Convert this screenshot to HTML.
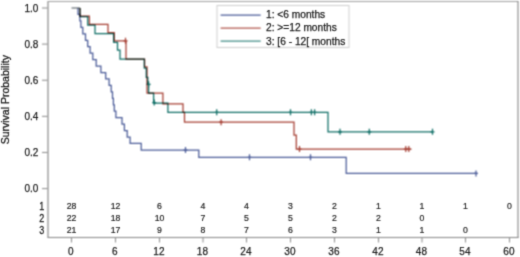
<!DOCTYPE html>
<html><head><meta charset="utf-8"><style>
html,body{margin:0;padding:0;background:#fff;}
body{width:520px;height:257px;overflow:hidden;}
svg{display:block;}
text{font-family:"Liberation Sans",sans-serif;}
.tk{font-size:10px;font-weight:normal;fill:#1e1e1e;stroke:#1e1e1e;stroke-width:0.25px;}
.lg{font-size:10.2px;font-weight:normal;fill:#1a1a1a;stroke:#1a1a1a;stroke-width:0.25px;}
.tn{font-size:8.7px;font-weight:normal;fill:#1e1e1e;stroke:#1e1e1e;stroke-width:0.2px;}
.rl{font-size:11px;font-weight:normal;fill:#1a1a1a;stroke:#1a1a1a;stroke-width:0.25px;}
.tt{font-size:10.5px;font-weight:normal;fill:#1a1a1a;stroke:#1a1a1a;stroke-width:0.3px;}
</style></head><body>
<svg width="520" height="257" viewBox="0 0 520 257">
<defs><filter id="b" filterUnits="userSpaceOnUse" x="0" y="0" width="520" height="257" color-interpolation-filters="sRGB"><feConvolveMatrix order="3" kernelMatrix="0.05760 0.12480 0.05760 0.12480 0.27040 0.12480 0.05760 0.12480 0.05760" divisor="1" edgeMode="duplicate"/></filter>
<filter id="t" filterUnits="userSpaceOnUse" x="0" y="0" width="520" height="257" color-interpolation-filters="sRGB"><feConvolveMatrix order="3" kernelMatrix="0.02250 0.10500 0.02250 0.10500 0.49000 0.10500 0.02250 0.10500 0.02250" divisor="1" edgeMode="none"/></filter></defs>
<g filter="url(#b)">
<rect width="520" height="257" fill="#fff"/>
<path d="M48 1.5 V237.5" fill="none" stroke="#707070" stroke-width="1"/>
<path d="M47.5 1.5 H518" fill="none" stroke="#a0a0a0" stroke-width="1"/>
<path d="M518 1 V238" fill="none" stroke="#787878" stroke-width="1"/>
<path d="M47.5 237.5 H518.5" fill="none" stroke="#888888" stroke-width="1"/>
<line x1="42" x2="47.5" y1="188.60" y2="188.60" stroke="#8a8a8a" stroke-width="1"/>
<line x1="42" x2="47.5" y1="152.48" y2="152.48" stroke="#8a8a8a" stroke-width="1"/>
<line x1="42" x2="47.5" y1="116.36" y2="116.36" stroke="#8a8a8a" stroke-width="1"/>
<line x1="42" x2="47.5" y1="80.24" y2="80.24" stroke="#8a8a8a" stroke-width="1"/>
<line x1="42" x2="47.5" y1="44.12" y2="44.12" stroke="#8a8a8a" stroke-width="1"/>
<line x1="42" x2="47.5" y1="8.00" y2="8.00" stroke="#8a8a8a" stroke-width="1"/>
<line x1="71.50" x2="71.50" y1="238" y2="242.5" stroke="#8a8a8a" stroke-width="1"/>
<line x1="115.50" x2="115.50" y1="238" y2="242.5" stroke="#8a8a8a" stroke-width="1"/>
<line x1="159.50" x2="159.50" y1="238" y2="242.5" stroke="#8a8a8a" stroke-width="1"/>
<line x1="203.00" x2="203.00" y1="238" y2="242.5" stroke="#8a8a8a" stroke-width="1"/>
<line x1="246.50" x2="246.50" y1="238" y2="242.5" stroke="#8a8a8a" stroke-width="1"/>
<line x1="290.50" x2="290.50" y1="238" y2="242.5" stroke="#8a8a8a" stroke-width="1"/>
<line x1="334.50" x2="334.50" y1="238" y2="242.5" stroke="#8a8a8a" stroke-width="1"/>
<line x1="378.50" x2="378.50" y1="238" y2="242.5" stroke="#8a8a8a" stroke-width="1"/>
<line x1="422.00" x2="422.00" y1="238" y2="242.5" stroke="#8a8a8a" stroke-width="1"/>
<line x1="465.50" x2="465.50" y1="238" y2="242.5" stroke="#8a8a8a" stroke-width="1"/>
<line x1="509.50" x2="509.50" y1="238" y2="242.5" stroke="#8a8a8a" stroke-width="1"/>
<g fill="none" stroke-width="1.25">
<path d="M71.5 8 H80" stroke="#6a7278"/>
<g style="mix-blend-mode:multiply"><path d="M80 8 V16.05 H89.4 V24.3 H108 V32.55 H114.3 V40.8 H126 V59 H144.6 V66.8 H147 V93.1 H162.9 V103.9 H183 V112.3 H184.5 V122.2 H294 V135 H296.3 V149 H411.5" stroke="#a63f33"/><path d="M125.5 37.8 v6 M123.5 40.8 h4" stroke="#a63f33"/><path d="M221.1 119.2 v6 M219.1 122.2 h4" stroke="#a63f33"/><path d="M299.5 146.0 v6 M297.5 149.0 h4" stroke="#a63f33"/><path d="M405.8 146.0 v6 M403.8 149.0 h4" stroke="#a63f33"/><path d="M408.8 146.0 v6 M406.8 149.0 h4" stroke="#a63f33"/></g>
<g style="mix-blend-mode:multiply"><path d="M80 8 V16.5 H87.7 V25.1 H95 V33.7 H113.6 V42.4 H117.5 V50 H120 V59 H144.3 V68.2 H146.3 V77.4 H147.8 V84.3 H148.6 V93.1 H153.6 V103 H167.9 V112.3 H328 V131.8 H432.5" stroke="#0f6e66"/><path d="M148.6 81.3 v6 M146.6 84.3 h4" stroke="#0f6e66"/><path d="M154.2 99.5 v6 M152.2 102.5 h4" stroke="#0f6e66"/><path d="M216.7 109.3 v6 M214.7 112.3 h4" stroke="#0f6e66"/><path d="M290.5 109.3 v6 M288.5 112.3 h4" stroke="#0f6e66"/><path d="M311.4 109.3 v6 M309.4 112.3 h4" stroke="#0f6e66"/><path d="M314.6 109.3 v6 M312.6 112.3 h4" stroke="#0f6e66"/><path d="M340.0 128.8 v6 M338.0 131.8 h4" stroke="#0f6e66"/><path d="M369.3 128.8 v6 M367.3 131.8 h4" stroke="#0f6e66"/><path d="M432.5 128.8 v6 M430.5 131.8 h4" stroke="#0f6e66"/></g>
<g style="mix-blend-mode:multiply"><path d="M78.0 8.00 L78.0 8.00 L78.0 14.45 L79.9 14.45 L79.9 20.90 L80.9 20.90 L80.9 27.35 L82.8 27.35 L82.8 33.80 L85.5 33.80 L85.5 40.25 L87.7 40.25 L87.7 46.70 L90.1 46.70 L90.1 53.15 L92.8 53.15 L92.8 59.60 L96.2 59.60 L96.2 66.05 L100.9 66.05 L100.9 72.50 L105.7 72.50 L105.7 78.95 L109.1 78.95 L109.1 85.40 L111.2 85.40 L111.2 91.85 L112.5 91.85 L112.5 98.30 L113.4 98.30 L113.4 104.75 L114.3 104.75 L114.3 111.20 L115.9 111.20 L115.9 117.65 L122.0 117.65 L122.0 124.10 L124.4 124.10 L124.4 130.55 L127.2 130.55 L127.2 137.00 L130.1 137.00 L130.1 143.45 H141.2 V150 H198.8 V157.3 H346.2 V173.4 H476" stroke="#4a5b98"/><path d="M185.5 147.0 v6 M183.5 150.0 h4" stroke="#4a5b98"/><path d="M249.5 154.3 v6 M247.5 157.3 h4" stroke="#4a5b98"/><path d="M310.5 154.3 v6 M308.5 157.3 h4" stroke="#4a5b98"/><path d="M476.0 170.4 v6 M474.0 173.4 h4" stroke="#4a5b98"/></g>
</g>
<rect x="217" y="5.5" width="132" height="42" fill="#fff" stroke="#cfcfcf" stroke-width="1"/>
<line x1="220.6" x2="260.7" y1="15.00" y2="15.00" stroke="#4a5b98" stroke-width="1.25" opacity="1.0"/>
<line x1="220.6" x2="260.7" y1="28.00" y2="28.00" stroke="#a63f33" stroke-width="1.25" opacity="0.88"/>
<line x1="220.6" x2="260.7" y1="41.00" y2="41.00" stroke="#0f6e66" stroke-width="1.25" opacity="0.8"/>
</g>
<g filter="url(#t)">
<text x="38.3" y="192.20" text-anchor="end" class="tk">0.0</text>
<text x="38.3" y="156.08" text-anchor="end" class="tk">0.2</text>
<text x="38.3" y="119.96" text-anchor="end" class="tk">0.4</text>
<text x="38.3" y="83.84" text-anchor="end" class="tk">0.6</text>
<text x="38.3" y="47.72" text-anchor="end" class="tk">0.8</text>
<text x="38.3" y="11.60" text-anchor="end" class="tk">1.0</text>
<text x="70.90" y="255.1" text-anchor="middle" class="tk">0</text>
<text x="114.90" y="255.1" text-anchor="middle" class="tk">6</text>
<text x="158.90" y="255.1" text-anchor="middle" class="tk">12</text>
<text x="202.40" y="255.1" text-anchor="middle" class="tk">18</text>
<text x="245.90" y="255.1" text-anchor="middle" class="tk">24</text>
<text x="289.90" y="255.1" text-anchor="middle" class="tk">30</text>
<text x="333.90" y="255.1" text-anchor="middle" class="tk">36</text>
<text x="377.90" y="255.1" text-anchor="middle" class="tk">42</text>
<text x="421.40" y="255.1" text-anchor="middle" class="tk">48</text>
<text x="464.90" y="255.1" text-anchor="middle" class="tk">54</text>
<text x="508.90" y="255.1" text-anchor="middle" class="tk">60</text>
<text transform="translate(9 99.7) rotate(-90)" text-anchor="middle" class="tt">Survival Probability</text>
<text transform="translate(44.20 209.60) scale(0.82 1)" text-anchor="end" class="rl">1</text>
<text x="71.50" y="209.00" text-anchor="middle" class="tn">28</text>
<text x="115.50" y="209.00" text-anchor="middle" class="tn">12</text>
<text x="159.50" y="209.00" text-anchor="middle" class="tn">6</text>
<text x="203.00" y="209.00" text-anchor="middle" class="tn">4</text>
<text x="246.50" y="209.00" text-anchor="middle" class="tn">4</text>
<text x="290.50" y="209.00" text-anchor="middle" class="tn">3</text>
<text x="334.50" y="209.00" text-anchor="middle" class="tn">2</text>
<text x="378.50" y="209.00" text-anchor="middle" class="tn">1</text>
<text x="422.00" y="209.00" text-anchor="middle" class="tn">1</text>
<text x="465.50" y="209.00" text-anchor="middle" class="tn">1</text>
<text x="509.50" y="209.00" text-anchor="middle" class="tn">0</text>
<text transform="translate(44.20 221.90) scale(0.82 1)" text-anchor="end" class="rl">2</text>
<text x="71.50" y="221.30" text-anchor="middle" class="tn">22</text>
<text x="115.50" y="221.30" text-anchor="middle" class="tn">18</text>
<text x="159.50" y="221.30" text-anchor="middle" class="tn">10</text>
<text x="203.00" y="221.30" text-anchor="middle" class="tn">7</text>
<text x="246.50" y="221.30" text-anchor="middle" class="tn">5</text>
<text x="290.50" y="221.30" text-anchor="middle" class="tn">5</text>
<text x="334.50" y="221.30" text-anchor="middle" class="tn">2</text>
<text x="378.50" y="221.30" text-anchor="middle" class="tn">2</text>
<text x="422.00" y="221.30" text-anchor="middle" class="tn">0</text>
<text transform="translate(44.20 234.40) scale(0.82 1)" text-anchor="end" class="rl">3</text>
<text x="71.50" y="233.40" text-anchor="middle" class="tn">21</text>
<text x="115.50" y="233.40" text-anchor="middle" class="tn">17</text>
<text x="159.50" y="233.40" text-anchor="middle" class="tn">9</text>
<text x="203.00" y="233.40" text-anchor="middle" class="tn">8</text>
<text x="246.50" y="233.40" text-anchor="middle" class="tn">7</text>
<text x="290.50" y="233.40" text-anchor="middle" class="tn">6</text>
<text x="334.50" y="233.40" text-anchor="middle" class="tn">3</text>
<text x="378.50" y="233.40" text-anchor="middle" class="tn">1</text>
<text x="422.00" y="233.40" text-anchor="middle" class="tn">1</text>
<text x="465.50" y="233.40" text-anchor="middle" class="tn">0</text>
<text x="266" y="18.00" class="lg">1: &lt;6 months</text>
<text x="266" y="31.20" class="lg">2: &gt;=12 months</text>
<text x="266" y="44.50" class="lg">3: [6 - 12[ months</text>
</g></svg>
</body></html>
